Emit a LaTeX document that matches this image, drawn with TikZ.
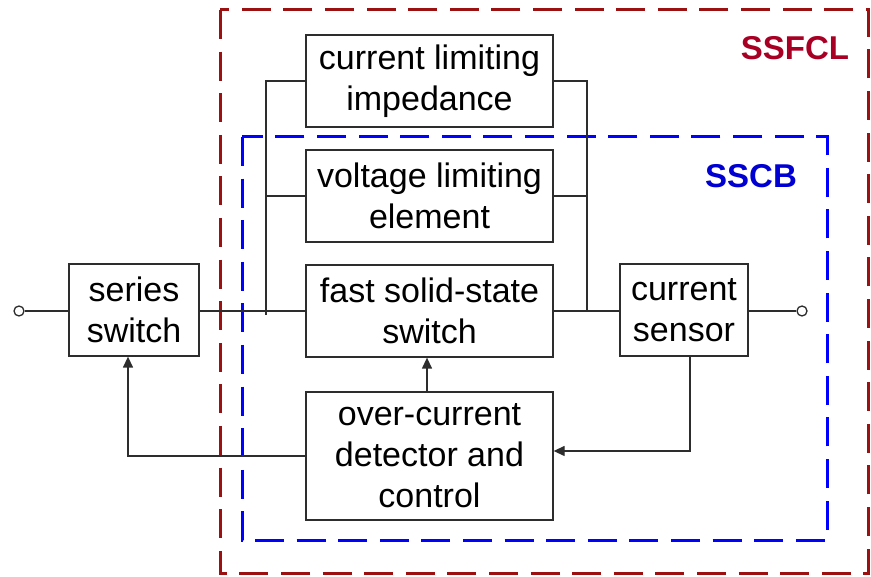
\documentclass[tikz,border=0pt]{standalone}
\usepackage{fontspec}
\setmainfont{Liberation Sans}
\usetikzlibrary{arrows.meta}
\definecolor{fclred}{RGB}{155,16,16}
\definecolor{fcltext}{RGB}{168,0,36}
\definecolor{cbblue}{RGB}{0,0,255}
\definecolor{cbtext}{RGB}{0,0,210}
\definecolor{wire}{RGB}{45,45,45}
\tikzset{
  blk/.style={draw=wire, line width=1.3pt, rectangle, align=center, inner sep=0pt,
    font=\fontsize{34}{41}\selectfont},
  wireline/.style={draw=wire, line width=1.3pt},
  arr/.style={wireline, -{Triangle[length=11pt,width=10pt]}},
  term/.style={circle, draw=wire, fill=white, line width=1.3pt, minimum size=10pt, inner sep=0pt},
  zone/.style={line width=3pt, dash pattern=on 29pt off 12.6pt},
  zonelabel/.style={font=\fontsize{33}{40}\selectfont\bfseries}
}
\begin{document}
\begin{tikzpicture}[x=1pt,y=-1pt]
\useasboundingbox (0,0) rectangle (871,577);
% zones
\draw[zone, draw=fclred] (220,10) rectangle (868,573);
\draw[zone, draw=cbblue] (242,137) rectangle (827,540);
\node[zonelabel, text=fcltext] (lfcl) at (795,48) {SSFCL};
\node[zonelabel, text=cbtext] (lcb) at (751,176) {SSCB};
% blocks
\node[blk, minimum width=130pt, minimum height=92pt] (ser) at (134,310) {series\\switch};
\node[blk, minimum width=247pt, minimum height=92pt] (cli) at (429.5,81) {current limiting\\impedance};
\node[blk, minimum width=247pt, minimum height=92pt] (vle) at (429.5,196) {voltage limiting\\element};
\node[blk, minimum width=247pt, minimum height=92pt] (fss) at (429.5,311) {fast solid-state\\switch};
\node[blk, minimum width=247pt, minimum height=128pt] (ocd) at (429.5,456) {over-current\\detector and\\control};
\node[blk, minimum width=128pt, minimum height=92pt] (cs) at (684,310) {current\\sensor};
% terminals
\node[term] (tin) at (19,311) {};
\node[term] (tout) at (802,311) {};
% bus coordinates
\coordinate (lbt) at (266,81);
\coordinate (lbb) at (266,315);
\coordinate (rbt) at (587,81);
\coordinate (rbb) at (587,311);
% wires
\draw[wireline] (tin) -- (tin -| ser.west);
\draw[wireline] (ser.east |- fss.west) -- (fss.west);
\draw[wireline] (lbb) -- (lbt) -- (cli.west);
\draw[wireline] (lbt |- vle.west) -- (vle.west);
\draw[wireline] (cli.east) -- (rbt) -- (rbb);
\draw[wireline] (vle.east) -- (rbt |- vle.east);
\draw[wireline] (fss.east) -- (cs.west |- fss.east);
\draw[wireline] (cs.east |- tout) -- (tout);
% control arrows
\draw[arr] (ocd.north -| 427,0) -- (fss.south -| 427,0);
\draw[arr] ([xshift=6pt]cs.south) |- ([yshift=5pt]ocd.east);
\draw[arr] (ocd.west) -| ([xshift=-6pt]ser.south);
\end{tikzpicture}
\end{document}
